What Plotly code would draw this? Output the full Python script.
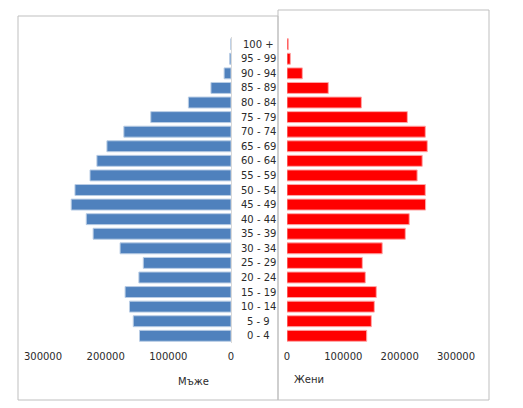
import plotly.graph_objects as go

# age groups, bottom to top
age_groups = [
    "0 - 4", "5 - 9", "10 - 14", "15 - 19", "20 - 24", "25 - 29", "30 - 34",
    "35 - 39", "40 - 44", "45 - 49", "50 - 54", "55 - 59", "60 - 64",
    "65 - 69", "70 - 74", "75 - 79", "80 - 84", "85 - 89", "90 - 94",
    "95 - 99", "100 +",
]
men = [
    146000, 156000, 162000, 169000, 147000, 140000, 177000,
    220000, 231000, 255000, 249000, 225000, 214000,
    198000, 171000, 128000, 68000, 32000, 11000,
    2100, 300,
]
women = [
    141500, 149700, 155000, 158500, 139000, 133700, 169000,
    210000, 217000, 246000, 245500, 231000, 240000,
    249000, 245500, 213600, 132000, 73300, 27200,
    5900, 2300,
]
axis_ticks = [0, 100000, 200000, 300000]

# page body has an 8px margin, so the figure is shrunk to fit the window
OFF = 8
W, H = 523 - OFF, 408 - OFF
FONT = "DejaVu Sans"
TEXT = "#2b2b2b"


def px(x):
    return (x - OFF) / W


def py(y):
    return 1 - (y - OFF) / H


fig = go.Figure()
fig.add_trace(go.Bar(
    y=age_groups, x=men, orientation="h", xaxis="x", yaxis="y",
    marker=dict(color="#4F81BD", line=dict(color="#B9CDE5", width=1)),
    name="Мъже", showlegend=False,
))
fig.add_trace(go.Bar(
    y=age_groups, x=women, orientation="h", xaxis="x2", yaxis="y",
    marker=dict(color="#FF0000", line=dict(color="#FFA6A6", width=1)),
    name="Жени", showlegend=False,
))

tick_font = dict(family=FONT, size=10, color=TEXT)
y_dom = [py(343.3), py(36.7)]
x_common = dict(
    anchor="y", tickvals=axis_ticks, tickformat="d", showgrid=False,
    automargin=False, zeroline=False, showline=False, tickfont=tick_font,
    ticks="outside", ticklen=4, tickcolor="rgba(0,0,0,0)",
)

fig.update_layout(
    width=W, height=H, autosize=False,
    margin=dict(l=0, r=0, t=0, b=0, autoexpand=False),
    paper_bgcolor="white", plot_bgcolor="rgba(0,0,0,0)",
    bargap=0.25,
    xaxis=dict(domain=[px(43), px(231)], range=[300000, 0], **x_common),
    xaxis2=dict(domain=[px(287), px(456)], range=[0, 300000], **x_common),
    yaxis=dict(
        domain=y_dom, type="category", categoryorder="array",
        categoryarray=age_groups, anchor="x", side="right", automargin=False,
        showticklabels=False, showgrid=False, zeroline=False,
        showline=True, linecolor="#D9D9D9", linewidth=1,
    ),
)

# chart area borders
fig.add_shape(type="rect", xref="paper", yref="paper",
              x0=px(18), x1=px(278), y0=py(400), y1=py(16),
              line=dict(color="#BFBFBF", width=1))
fig.add_shape(type="rect", xref="paper", yref="paper",
              x0=px(278), x1=px(489), y0=py(400), y1=py(10),
              line=dict(color="#BFBFBF", width=1))

for label in age_groups:
    fig.add_annotation(x=px(258), xref="paper", y=label, yref="y",
                       text=label, showarrow=False, xanchor="center",
                       yanchor="middle", font=tick_font)

fig.add_annotation(x=px(193), y=py(381), xref="paper", yref="paper",
                   text="Мъже", showarrow=False, xanchor="center",
                   yanchor="middle", font=tick_font)
fig.add_annotation(x=px(309), y=py(379), xref="paper", yref="paper",
                   text="Жени", showarrow=False, xanchor="center",
                   yanchor="middle", font=tick_font)

fig.write_html("out.html")
